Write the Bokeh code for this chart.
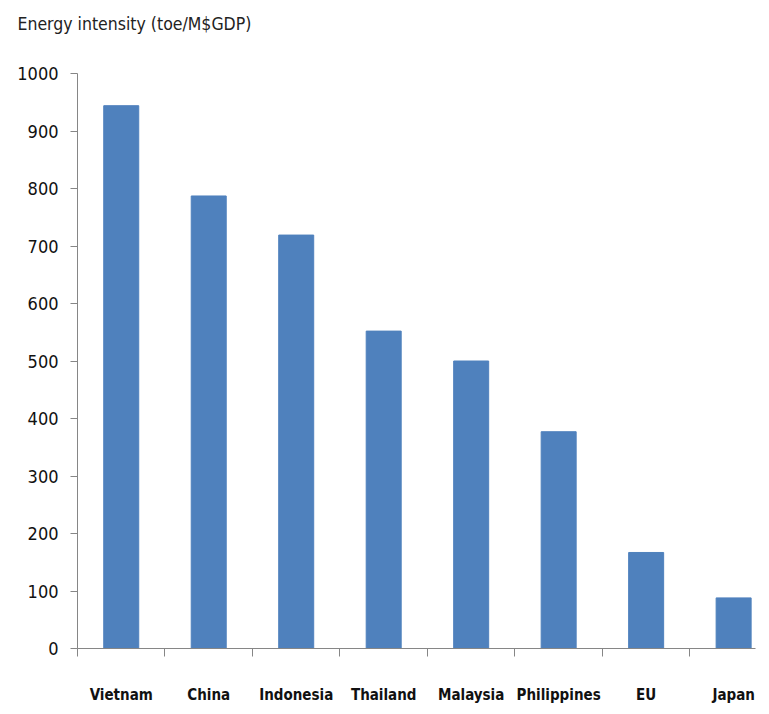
from bokeh.plotting import figure
from bokeh.models import FixedTicker, Range1d, Title, ColumnDataSource
from bokeh.embed import file_html
from bokeh.resources import INLINE

countries = ["Vietnam", "China", "Indonesia", "Thailand", "Malaysia", "Philippines", "EU", "Japan"]
intensity = [944, 787, 719, 552, 500, 377, 167, 88]
y_ticks = [0, 100, 200, 300, 400, 500, 600, 700, 800, 900, 1000]
title_text = "Energy intensity (toe/M$GDP)"

centers = [i + 0.5 for i in range(len(countries))]
bounds = list(range(len(countries) + 1))

src = ColumnDataSource(dict(x=centers, top=intensity, name=countries))

FONT = "'DejaVu Sans Condensed', Roboto, sans-serif"
AXIS_COLOR = "#868686"

p = figure(width=761, height=706, output_backend="svg", toolbar_location=None,
           x_range=Range1d(0, 7.75), y_range=Range1d(0, 1000),
           min_border_left=77, min_border_right=6, min_border_top=73, min_border_bottom=57)

p.vbar(x="x", top="top", width=0.4, source=src, fill_color="#4F81BD", line_color="#4F81BD")

# real title (outermost) and a blank spacer between it and the frame
p.title.text = title_text
p.title.align = "left"
p.title.offset = -60
p.title.vertical_align = "top"
p.title.text_font = FONT
p.title.text_font_size = "17.5px"
p.title.text_font_style = "normal"
p.title.text_color = "#222222"
p.title.standoff = 6
p.add_layout(Title(text=" ", text_font=FONT, text_font_size="17.5px", standoff=13), "above")

p.xgrid.visible = False
p.ygrid.visible = False
p.outline_line_color = None
p.background_fill_color = "white"

xa = p.xaxis[0]
xa.ticker = FixedTicker(ticks=centers, minor_ticks=bounds)
xa.major_label_overrides = {c: n for c, n in zip(centers, countries)}
xa.major_tick_out = 0
xa.major_tick_in = 0
xa.minor_tick_out = 8
xa.minor_tick_in = 0
xa.minor_tick_line_color = AXIS_COLOR
xa.axis_line_color = AXIS_COLOR
xa.major_label_text_font = FONT
xa.major_label_text_font_size = "15px"
xa.major_label_text_font_style = "bold"
xa.major_label_text_color = "#111111"
xa.major_label_standoff = 29

ya = p.yaxis[0]
ya.ticker = FixedTicker(ticks=y_ticks)
ya.major_tick_out = 7
ya.major_tick_in = 0
ya.minor_tick_out = 0
ya.minor_tick_in = 0
ya.major_tick_line_color = AXIS_COLOR
ya.axis_line_color = AXIS_COLOR
ya.major_label_text_font = FONT
ya.major_label_text_font_size = "18px"
ya.major_label_text_color = "#111111"
ya.major_label_standoff = 12

open("out.html", "w").write(file_html(p, INLINE))
